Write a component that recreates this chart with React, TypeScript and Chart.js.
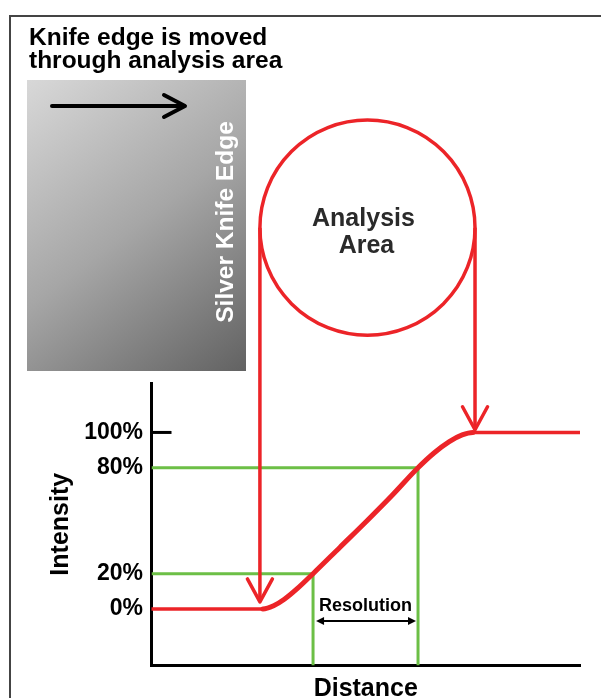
import React, { useEffect, useRef } from 'react';
import { Chart, registerables } from 'chart.js';

Chart.register(...registerables);

// ---- data ----
const distance = [0, 26, 28.5, 31, 34, 37.7, 44, 50.3, 56, 62.2, 66, 69.5, 72.5, 75, 100];
const intensity = [0, 0, 1.8, 5.5, 11.5, 20, 35, 50, 64, 80, 88.5, 94.8, 98.6, 100, 100];
const thresholdLevels = [20, 80];
const thresholdDistances = [37.7, 62.2];
const arrowDistances = [25.3, 75.5];
const arrowTipIntensity = [4, 101.5];
const arrowTailIntensity = 216;
const yTickValues = [0, 20, 80, 100];
const titleLines = ['Knife edge is moved', 'through analysis area'];
const xAxisTitle = 'Distance';
const yAxisTitle = 'Intensity';
const circleLabel = ['Analysis', 'Area'];
const edgeLabel = 'Silver Knife Edge';
const resolutionLabel = 'Resolution';

const X_MIN = 0;
const X_MAX = 100;
const Y_MIN = -32;
const Y_MAX = 128;

const FONT = "'Liberation Sans', Arial, Helvetica, sans-serif";
const RED = '#ec2428';
const GREEN = '#6cbf46';

function chevronDown(ctx: CanvasRenderingContext2D, x: number, y: number, dx: number, dy: number) {
  ctx.beginPath();
  ctx.moveTo(x - dx, y - dy);
  ctx.lineTo(x, y);
  ctx.lineTo(x + dx, y - dy);
  ctx.stroke();
}

const decorPlugin = {
  id: 'decor',
  beforeDraw(chart: any) {
    const { ctx, width, height } = chart;
    ctx.save();
    ctx.fillStyle = '#ffffff';
    ctx.fillRect(0, 0, width, height);

    // frame
    ctx.strokeStyle = '#444';
    ctx.lineWidth = 2;
    ctx.beginPath();
    ctx.moveTo(10, height);
    ctx.lineTo(10, 16);
    ctx.lineTo(width, 16);
    ctx.stroke();

    // silver knife edge box
    const bx = 27, by = 80, bw = 219, bh = 291;
    const g = ctx.createLinearGradient(bx, by, bx + bw, by + bh);
    g.addColorStop(0, '#d8d8d8');
    g.addColorStop(0.5, '#a6a6a6');
    g.addColorStop(1, '#626262');
    ctx.fillStyle = g;
    ctx.fillRect(bx, by, bw, bh);

    // movement arrow
    ctx.strokeStyle = '#000';
    ctx.lineWidth = 4;
    ctx.lineCap = 'round';
    ctx.lineJoin = 'round';
    ctx.beginPath();
    ctx.moveTo(52, 106);
    ctx.lineTo(183, 106);
    ctx.stroke();
    ctx.beginPath();
    ctx.moveTo(164, 95);
    ctx.lineTo(185, 106);
    ctx.lineTo(164, 117);
    ctx.stroke();

    // rotated label
    ctx.translate(226, 222);
    ctx.rotate(-Math.PI / 2);
    ctx.fillStyle = '#ffffff';
    ctx.font = `bold 24.5px ${FONT}`;
    ctx.textAlign = 'center';
    ctx.textBaseline = 'middle';
    ctx.fillText(edgeLabel, 0, 0);
    ctx.restore();
  },
  afterDatasetsDraw(chart: any) {
    const { ctx, scales } = chart;
    const xs = scales.x, ys = scales.y;
    const xl = xs.getPixelForValue(arrowDistances[0]);
    const xr = xs.getPixelForValue(arrowDistances[1]);
    const cy = ys.getPixelForValue(arrowTailIntensity);
    ctx.save();
    ctx.strokeStyle = RED;
    ctx.lineWidth = 3.5;
    ctx.beginPath();
    ctx.arc((xl + xr) / 2, cy, (xr - xl) / 2, 0, Math.PI * 2);
    ctx.stroke();
    ctx.lineCap = 'round';
    ctx.lineJoin = 'round';
    arrowDistances.forEach((d, i) => {
      chevronDown(ctx, xs.getPixelForValue(d), ys.getPixelForValue(arrowTipIntensity[i]), 12.5, 23);
    });

    // circle label
    ctx.fillStyle = '#2a2a2a';
    ctx.font = `bold 25px ${FONT}`;
    ctx.textAlign = 'center';
    ctx.textBaseline = 'alphabetic';
    ctx.fillText(circleLabel[0], (xl + xr) / 2 - 4, cy - 2);
    ctx.fillText(circleLabel[1], (xl + xr) / 2 - 1, cy + 25);
    ctx.restore();
  },
  afterDraw(chart: any) {
    const { ctx, scales } = chart;
    const xs = scales.x, ys = scales.y;
    ctx.save();
    // 100% tick mark
    const y100 = ys.getPixelForValue(100);
    ctx.strokeStyle = '#000';
    ctx.lineWidth = 3;
    ctx.beginPath();
    ctx.moveTo(xs.left, y100);
    ctx.lineTo(xs.left + 20, y100);
    ctx.stroke();

    // resolution
    const x0 = xs.getPixelForValue(thresholdDistances[0]);
    const x1 = xs.getPixelForValue(thresholdDistances[1]);
    const yz = ys.getPixelForValue(0);
    ctx.fillStyle = '#000';
    ctx.font = `bold 18px ${FONT}`;
    ctx.textAlign = 'center';
    ctx.textBaseline = 'alphabetic';
    ctx.fillText(resolutionLabel, (x0 + x1) / 2, yz + 2);
    const ya = yz + 12;
    const a0 = x0 + 3, a1 = x1 - 2;
    ctx.lineWidth = 2;
    ctx.beginPath();
    ctx.moveTo(a0 + 4, ya);
    ctx.lineTo(a1 - 4, ya);
    ctx.stroke();
    ctx.beginPath();
    ctx.moveTo(a0, ya);
    ctx.lineTo(a0 + 8, ya - 4);
    ctx.lineTo(a0 + 8, ya + 4);
    ctx.closePath();
    ctx.fill();
    ctx.beginPath();
    ctx.moveTo(a1, ya);
    ctx.lineTo(a1 - 8, ya - 4);
    ctx.lineTo(a1 - 8, ya + 4);
    ctx.closePath();
    ctx.fill();
    ctx.restore();
  },
};

export default function App() {
  const ref = useRef<HTMLCanvasElement | null>(null);

  useEffect(() => {
    if (!ref.current) return;
    const curve = distance.map((x, i) => ({ x, y: intensity[i] }));
    const greens = thresholdLevels.map((lvl, i) => ({
      label: `${lvl}%`,
      data: [
        { x: X_MIN, y: lvl },
        { x: thresholdDistances[i], y: lvl },
        { x: thresholdDistances[i], y: Y_MIN },
      ],
      borderColor: GREEN,
      borderWidth: 3,
      pointRadius: 0,
      fill: false,
      order: 2,
    }));
    const arrows = arrowDistances.map((d, i) => ({
      label: `arrow${i}`,
      data: [
        { x: d, y: arrowTailIntensity },
        { x: d, y: arrowTipIntensity[i] },
      ],
      borderColor: RED,
      borderWidth: 3.5,
      pointRadius: 0,
      fill: false,
      clip: false,
      order: 1,
    }));

    const chart = new Chart(ref.current, {
      type: 'line',
      data: {
        datasets: [
          {
            label: 'Intensity',
            data: curve,
            borderColor: RED,
            borderWidth: 3.5,
            borderCapStyle: 'round',
            borderJoinStyle: 'round',
            pointRadius: 0,
            fill: false,
            cubicInterpolationMode: 'monotone',
            order: 0,
            segment: {
              borderWidth: (c: any) => (c.p0.parsed.y === c.p1.parsed.y ? 3.5 : 5),
            },
          } as any,
          ...greens,
          ...arrows,
        ],
      },
      options: {
        animation: false,
        responsive: false,
        maintainAspectRatio: false,
        layout: { padding: { left: 29, right: 21, top: 0, bottom: 0 } },
        plugins: {
          legend: { display: false },
          tooltip: { enabled: false },
          title: {
            display: true,
            text: titleLines,
            align: 'start',
            color: '#000',
            font: { family: FONT, size: 24.5, weight: 'bold', lineHeight: 23 / 24.5 },
            padding: { top: 26.7, bottom: 310.3 },
          },
        },
        scales: {
          x: {
            type: 'linear',
            min: X_MIN,
            max: X_MAX,
            afterFit: (s: any) => {
              s.height = 32.5;
            },
            grid: { display: false, drawTicks: false },
            border: { display: true, color: '#000', width: 3 },
            ticks: { display: false },
            title: {
              display: true,
              text: xAxisTitle,
              color: '#000',
              font: { family: FONT, size: 25, weight: 'bold', lineHeight: 0.72 },
              padding: 0,
            },
          },
          y: {
            type: 'linear',
            min: Y_MIN,
            max: Y_MAX,
            afterBuildTicks: (s: any) => {
              s.ticks = yTickValues.map((v) => ({ value: v }));
            },
            afterFit: (s: any) => {
              s.width = 151.5 - 29;
            },
            grid: { display: false, drawTicks: false },
            border: { display: true, color: '#000', width: 3 },
            ticks: {
              color: '#000',
              padding: 8.5,
              autoSkip: false,
              font: { family: FONT, size: 23, weight: 'bold' },
              callback: (v: any) => `${v}%`,
            },
            title: {
              display: true,
              text: yAxisTitle,
              color: '#000',
              font: { family: FONT, size: 25, weight: 'bold' },
              padding: { top: 17, bottom: 0 },
            },
          },
        },
      } as any,
      plugins: [decorPlugin],
    });
    return () => chart.destroy();
  }, []);

  return (
    <div style={{ position: 'fixed', left: 0, top: 0, width: 601, height: 698, background: '#fff' }}>
      <canvas ref={ref} width={601} height={698} style={{ display: 'block' }} />
    </div>
  );
}
